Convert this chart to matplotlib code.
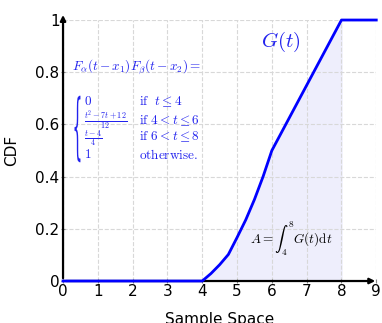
import numpy as np
import matplotlib.pyplot as plt
from matplotlib.textpath import TextPath
from matplotlib.font_manager import FontProperties
from matplotlib.patches import PathPatch
from matplotlib.transforms import Affine2D

t_pts = [0, 4, 4.25, 4.5, 4.75, 5, 5.25, 5.5, 5.75, 6, 7, 8, 9]
g_pts = [0, 0, 0.0286, 0.0625, 0.1016, 0.1667, 0.2344, 0.3125, 0.4010, 0.5, 0.75, 1, 1]
x_ticks = [0, 1, 2, 3, 4, 5, 6, 7, 8, 9]
y_ticks = [0, 0.2, 0.4, 0.6, 0.8, 1]
y_labels = ['0', '0.2', '0.4', '0.6', '0.8', '1']

plt.rcParams['mathtext.fontset'] = 'cm'

fig = plt.figure(figsize=(3.82, 3.23), dpi=100)
ax = fig.add_axes([0.165, 0.13, 0.82, 0.808])

t = np.array(t_pts)
g = np.array(g_pts)
mask = (t >= 4) & (t <= 8)
ax.fill_between(t[mask], 0, g[mask], color='#eeeefc', zorder=1)
ax.plot(t, g, color='#0000ff', lw=2, zorder=3, clip_on=False)

ax.set_xlim(0, 9)
ax.set_ylim(0, 1)
ax.set_xticks(x_ticks)
ax.set_yticks(y_ticks)
ax.set_yticklabels(y_labels)
ax.tick_params(labelsize=11, length=3, direction='inout', color='#888888', pad=1)
ax.grid(True, ls='--', color='#d8d8d8', lw=0.8)
for s in ['top', 'right', 'left', 'bottom']:
    ax.spines[s].set_visible(False)

ax.annotate('', xy=(9.05, 0), xytext=(0, 0), arrowprops=dict(arrowstyle='-|>', color='black', lw=1.6, mutation_scale=8), annotation_clip=False, zorder=2)
ax.annotate('', xy=(0, 1.03), xytext=(0, 0), arrowprops=dict(arrowstyle='-|>', color='black', lw=1.6, mutation_scale=8), annotation_clip=False, zorder=4)

ax.set_xlabel('Sample Space', fontsize=11, labelpad=9)
ax.set_ylabel('CDF', fontsize=11, labelpad=12)

blue = '#2222ee'
ax.text(6.25, 0.915, r'$G(t)$', color=blue, fontsize=15, ha='center', va='center')
ax.text(0.27, 0.82, r'$F_\alpha(t-x_1)F_\beta(t-x_2)=$', color=blue, fontsize=9.5, va='center')

# curly brace of the cases block, stretched to the height of the four rows
tp = TextPath((0, 0), '{', prop=FontProperties(family='DejaVu Serif'), size=1)
ext = tp.get_extents()
bx0, bx1, by0, by1 = 0.33, 0.5, 0.455, 0.71
tr = (Affine2D().translate(-ext.x0, -ext.y0)
      .scale((bx1 - bx0) / ext.width, (by1 - by0) / ext.height)
      .translate(bx0, by0))
ax.add_patch(PathPatch(tr.transform_path(tp), color=blue, lw=0, transform=ax.transData, zorder=5))

fs = 9.5
ax.text(0.6, 0.686, r'$0$', color=blue, fontsize=fs, va='center')
ax.text(0.6, 0.615, r'$\frac{t^2-7t+12}{12}$', color=blue, fontsize=8.5, va='center')
ax.text(0.6, 0.548, r'$\frac{t-4}{4}$', color=blue, fontsize=8.5, va='center')
ax.text(0.6, 0.483, r'$1$', color=blue, fontsize=fs, va='center')
ax.text(2.17, 0.686, r'$\mathrm{if}\ \ t\leq 4$', color=blue, fontsize=fs, va='center')
ax.text(2.17, 0.616, r'$\mathrm{if}\ 4<t\leq 6$', color=blue, fontsize=fs, va='center')
ax.text(2.17, 0.552, r'$\mathrm{if}\ 6<t\leq 8$', color=blue, fontsize=fs, va='center')
ax.text(2.17, 0.483, r'$\mathrm{otherwise.}$', color=blue, fontsize=fs, va='center')

ax.text(6.55, 0.16, r'$A=\int_4^8 G(t)\mathrm{d}t$', color='black', fontsize=9.5, ha='center', va='center')

fig.savefig('out.png', dpi=100)
